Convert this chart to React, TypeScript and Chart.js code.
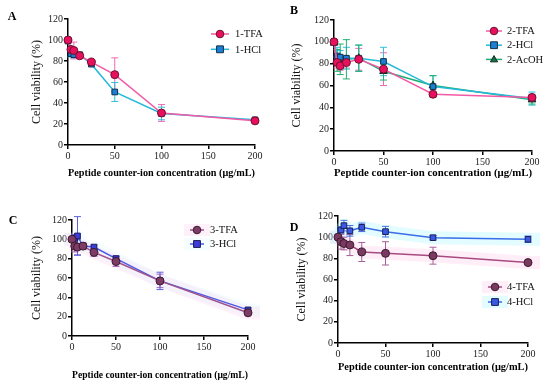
import React, { useEffect, useRef } from 'react';
import { Chart, registerables } from 'chart.js';

Chart.register(...registerables);

// ---------- data ----------
const concentrations = [0, 3.125, 6.25, 12.5, 25, 50, 100, 200];
const xTickValues = [0, 50, 100, 150, 200];
const yTickValues = [0, 20, 40, 60, 80, 100, 120];

const tfa1 = [100, 91, 90, 85, 79, 67, 30.5, 23];
const tfa1Err = [0, 2, 8, 2, 2, 16, 8, 1];
const hcl1 = [99, 87, 86, 86, 77, 50.5, 30, 24];
const hcl1Err = [0, 3, 3, 2, 2, 9, 6, 1];

const tfa2 = [100, 81, 78, 81, 84, 75, 52, 49];
const tfa2Err = [0, 5, 4, 5, 10, 15, 2, 3];
const hcl2 = [100, 87, 86, 85, 85, 82, 59, 48];
const hcl2Err = [0, 8, 6, 10, 12, 13, 10, 6];
const acoh2 = [99, 83, 84, 84, 85, 73, 60, 47];
const acoh2Err = [0, 10, 14, 18, 12, 8, 9, 4];

const tfa3 = [100, 93, 92, 93, 86.5, 77, 57, 24];
const tfa3Err = [0, 6, 8, 3, 4, 5, 7, 2];
const hcl3 = [100, 101, 103.5, 93, 92, 80, 57, 27];
const hcl3Err = [0, 4, 20, 3, 2, 3, 9, 2];

const tfa4 = [100, 95.7, 94, 92.6, 86, 84.7, 82.5, 76];
const tfa4Err = [0, 7, 6, 10, 9, 11, 8, 1];
const hcl4 = [100, 106.8, 110.9, 106, 109.3, 105.2, 99.5, 98];
const hcl4Err = [0, 3, 5, 5, 4, 5, 2, 3];

const xTitle = 'Peptide counter-ion concentration (μg/mL)';
const yTitle = 'Cell viability (%)';

const FONT = "'Liberation Serif', 'Times New Roman', serif";

type Series = {
  label: string;
  values: number[];
  errors: number[];
  line: string;
  fill: string;
  border: string;
  errColor: string;
  style: 'circle' | 'rect' | 'triangle';
  glow?: string;
};

type PanelCfg = {
  letter: string;
  box: { x: number; y: number; w: number; h: number };
  area: { l: number; r: number; t: number; b: number };
  yTitleX: number;
  xTitleY: number;
  letterPos: { x: number; y: number };
  legend: { x: number; y: number; dy: number; textX: number; half: number };
  series: Series[];
};

const panels: PanelCfg[] = [
  {
    letter: 'A',
    box: { x: 0, y: 0, w: 275, h: 190 },
    area: { l: 68, r: 255, t: 19, b: 145 },
    yTitleX: 37,
    xTitleY: 173,
    letterPos: { x: 12, y: 17 },
    legend: { x: 220, y: 34, dy: 15.3, textX: 235, half: 9 },
    series: [
      { label: '1-TFA', values: tfa1, errors: tfa1Err, line: '#f25aa6', fill: '#e8105c', border: '#6a1030', errColor: '#f06ab4', style: 'circle' },
      { label: '1-HCl', values: hcl1, errors: hcl1Err, line: '#26b9d9', fill: '#1c7fd4', border: '#10304a', errColor: '#30c0dc', style: 'rect' },
    ],
  },
  {
    letter: 'B',
    box: { x: 275, y: 0, w: 275, h: 190 },
    area: { l: 334, r: 532, t: 20, b: 151 },
    yTitleX: 297,
    xTitleY: 173,
    letterPos: { x: 294, y: 11 },
    legend: { x: 494, y: 31, dy: 14.2, textX: 507, half: 8 },
    series: [
      { label: '2-TFA', values: tfa2, errors: tfa2Err, line: '#f25aa6', fill: '#e8105c', border: '#6a1030', errColor: '#f06ab4', style: 'circle' },
      { label: '2-HCl', values: hcl2, errors: hcl2Err, line: '#26b9d9', fill: '#1c7fd4', border: '#10304a', errColor: '#30c0dc', style: 'rect' },
      { label: '2-AcOH', values: acoh2, errors: acoh2Err, line: '#1caf76', fill: '#1a6a48', border: '#0c3020', errColor: '#20b070', style: 'triangle' },
    ],
  },
  {
    letter: 'C',
    box: { x: 0, y: 190, w: 275, h: 192 },
    area: { l: 72, r: 248, t: 220, b: 336 },
    yTitleX: 37,
    xTitleY: 375,
    letterPos: { x: 13, y: 221 },
    legend: { x: 197, y: 230, dy: 14, textX: 210, half: 7 },
    series: [
      { label: '3-TFA', values: tfa3, errors: tfa3Err, line: '#a0508a', fill: '#7e3b66', border: '#3a1a30', errColor: '#a060b8', style: 'circle', glow: 'rgba(255,170,215,0.16)' },
      { label: '3-HCl', values: hcl3, errors: hcl3Err, line: '#4a5ae6', fill: '#3c3cd6', border: '#1a1a60', errColor: '#5a60e0', style: 'rect', glow: 'rgba(190,240,255,0.16)' },
    ],
  },
  {
    letter: 'D',
    box: { x: 275, y: 190, w: 275, h: 192 },
    area: { l: 338, r: 528, t: 216, b: 343 },
    yTitleX: 302,
    xTitleY: 367,
    letterPos: { x: 294, y: 228 },
    legend: { x: 495, y: 287, dy: 15, textX: 507, half: 7 },
    series: [
      { label: '4-TFA', values: tfa4, errors: tfa4Err, line: '#a84a82', fill: '#7a3a60', border: '#3a1a30', errColor: '#a8609a', style: 'circle', glow: 'rgba(255,170,215,0.2)' },
      { label: '4-HCl', values: hcl4, errors: hcl4Err, line: '#3a6ee8', fill: '#3a58e0', border: '#182060', errColor: '#4a70e0', style: 'rect', glow: 'rgba(160,245,255,0.3)' },
    ],
  },
];

// ---------- drawing helpers ----------
function drawMarker(ctx: CanvasRenderingContext2D, style: string, x: number, y: number, r: number, fill: string, border: string) {
  ctx.save();
  ctx.fillStyle = fill;
  ctx.strokeStyle = border;
  ctx.lineWidth = 1;
  ctx.beginPath();
  if (style === 'rect') {
    ctx.rect(x - r * 0.9, y - r * 0.9, r * 1.8, r * 1.8);
  } else if (style === 'triangle') {
    ctx.moveTo(x, y - r);
    ctx.lineTo(x + r * 0.95, y + r * 0.65);
    ctx.lineTo(x - r * 0.95, y + r * 0.65);
    ctx.closePath();
  } else {
    ctx.arc(x, y, r, 0, Math.PI * 2);
  }
  ctx.fill();
  ctx.stroke();
  ctx.restore();
}

const panelPlugin = {
  id: 'panelExtras',
  beforeDatasetsDraw(chart: any) {
    const ctx: CanvasRenderingContext2D = chart.ctx;
    const yScale = chart.scales.y;
    chart.data.datasets.forEach((ds: any, i: number) => {
      const meta = chart.getDatasetMeta(i);
      if (ds.glow) {
        ctx.save();
        ctx.strokeStyle = ds.glow;
        ctx.lineWidth = 13;
        ctx.lineJoin = 'round';
        ctx.lineCap = 'butt';
        ctx.beginPath();
        meta.data.forEach((pt: any, j: number) => {
          if (j === 0) ctx.moveTo(pt.x - 8, pt.y);
          ctx.lineTo(pt.x, pt.y);
        });
        const last = meta.data[meta.data.length - 1];
        ctx.lineTo(last.x + 12, last.y);
        ctx.stroke();
        ctx.restore();
      }
    });
    chart.data.datasets.forEach((ds: any, i: number) => {
      const meta = chart.getDatasetMeta(i);
      ctx.save();
      ctx.strokeStyle = ds.errColor;
      ctx.lineWidth = 1;
      meta.data.forEach((pt: any, j: number) => {
        const e = ds.errors[j];
        if (!e) return;
        const v = ds.data[j].y;
        const yt = yScale.getPixelForValue(v + e);
        const yb = yScale.getPixelForValue(v - e);
        const cap = 3.5;
        ctx.beginPath();
        ctx.moveTo(pt.x, yt);
        ctx.lineTo(pt.x, yb);
        ctx.moveTo(pt.x - cap, yt);
        ctx.lineTo(pt.x + cap, yt);
        ctx.moveTo(pt.x - cap, yb);
        ctx.lineTo(pt.x + cap, yb);
        ctx.stroke();
      });
      ctx.restore();
    });
  },
  afterDraw(chart: any) {
    const ctx: CanvasRenderingContext2D = chart.ctx;
    const o = chart.options.plugins.panelExtras;
    ctx.save();
    ctx.fillStyle = '#000';
    ctx.font = `bold 12px ${FONT}`;
    ctx.textAlign = 'center';
    ctx.textBaseline = 'middle';
    ctx.fillText(o.letter, o.letterX, o.letterY);
    ctx.restore();
    const lg = o.legend;
    chart.data.datasets.forEach((ds: any, i: number) => {
      const y = lg.y + i * lg.dy;
      ctx.save();
      if (ds.glow) {
        ctx.fillStyle = ds.glow;
        ctx.fillRect(lg.x - lg.half - 6, y - 6, lg.half * 2 + 12, 12);
      }
      ctx.strokeStyle = ds.borderColor;
      ctx.lineWidth = 1.5;
      ctx.beginPath();
      ctx.moveTo(lg.x - lg.half, y);
      ctx.lineTo(lg.x + lg.half, y);
      ctx.stroke();
      drawMarker(ctx, ds.markerStyle, lg.x, y, 3.8, ds.pointBackgroundColor, ds.pointBorderColor);
      ctx.fillStyle = '#111';
      ctx.font = `10.5px ${FONT}`;
      ctx.textAlign = 'left';
      ctx.textBaseline = 'middle';
      ctx.fillText(ds.label, lg.textX, y + 0.5);
      ctx.restore();
    });
  },
};

function Panel({ cfg }: { cfg: PanelCfg }) {
  const ref = useRef<HTMLCanvasElement>(null);
  useEffect(() => {
    if (!ref.current) return;
    const { box, area } = cfg;
    const yWidth = area.l - box.x;
    const xHeight = box.y + box.h - area.b;
    const xLineH = 11 * 1.2;
    const yLineH = 12 * 1.2;
    const chart = new Chart(ref.current, {
      type: 'line',
      data: {
        datasets: cfg.series.map((s) => ({
          label: s.label,
          data: concentrations.map((c, i) => ({ x: c, y: s.values[i] })),
          errors: s.errors,
          errColor: s.errColor,
          glow: s.glow,
          markerStyle: s.style,
          borderColor: s.line,
          borderWidth: 1.5,
          pointStyle: s.style,
          pointRadius: s.style === 'triangle' ? 4.4 : 4,
          pointBackgroundColor: s.fill,
          pointBorderColor: s.border,
          pointBorderWidth: 1,
          tension: 0,
          clip: false,
        })) as any,
      },
      options: {
        animation: false,
        responsive: false,
        maintainAspectRatio: false,
        events: [],
        layout: {
          padding: {
            left: 0,
            top: area.t - box.y,
            right: box.x + box.w - area.r,
            bottom: 0,
          },
        },
        scales: {
          x: {
            type: 'linear',
            min: 0,
            max: 200,
            afterFit: (s: any) => { s.height = xHeight; },
            afterBuildTicks: (s: any) => { s.ticks = xTickValues.map((v) => ({ value: v })); },
            border: { display: true, color: '#000', width: 1.5 },
            grid: { display: true, drawOnChartArea: false, drawTicks: true, tickLength: 4, color: '#000', lineWidth: 1.5 },
            ticks: { color: '#222', font: { family: FONT, size: 10 }, padding: 1, maxRotation: 0, autoSkip: false },
            title: {
              display: true,
              text: xTitle,
              color: '#000',
              font: { family: FONT, size: 11, weight: 'bold' },
              padding: { top: 0, bottom: box.y + box.h - cfg.xTitleY - xLineH / 2 },
            },
          },
          y: {
            type: 'linear',
            min: 0,
            max: 120,
            afterFit: (s: any) => { s.width = yWidth; },
            afterBuildTicks: (s: any) => { s.ticks = yTickValues.map((v) => ({ value: v })); },
            border: { display: true, color: '#000', width: 1.5 },
            grid: { display: true, drawOnChartArea: false, drawTicks: true, tickLength: 4, color: '#000', lineWidth: 1.5 },
            ticks: { color: '#222', font: { family: FONT, size: 10 }, padding: 1, autoSkip: false },
            title: {
              display: true,
              text: yTitle,
              color: '#111',
              font: { family: FONT, size: 12 },
              padding: { top: cfg.yTitleX - box.x - yLineH / 2, bottom: 0 },
            },
          },
        },
        plugins: {
          legend: { display: false },
          tooltip: { enabled: false },
          panelExtras: {
            letter: cfg.letter,
            letterX: cfg.letterPos.x - box.x,
            letterY: cfg.letterPos.y - box.y,
            legend: {
              x: cfg.legend.x - box.x,
              y: cfg.legend.y - box.y,
              dy: cfg.legend.dy,
              textX: cfg.legend.textX - box.x,
              half: cfg.legend.half,
            },
          },
        } as any,
      },
      plugins: [panelPlugin],
    });
    return () => chart.destroy();
  }, [cfg]);
  const { box } = cfg;
  return (
    <canvas
      ref={ref}
      width={box.w}
      height={box.h}
      style={{ position: 'absolute', left: box.x, top: box.y, width: box.w, height: box.h }}
    />
  );
}

export default function App() {
  return (
    <div style={{ position: 'fixed', left: 0, top: 0, width: 550, height: 382, background: '#fff', overflow: 'hidden' }}>
      {panels.map((p) => (
        <Panel key={p.letter} cfg={p} />
      ))}
    </div>
  );
}
